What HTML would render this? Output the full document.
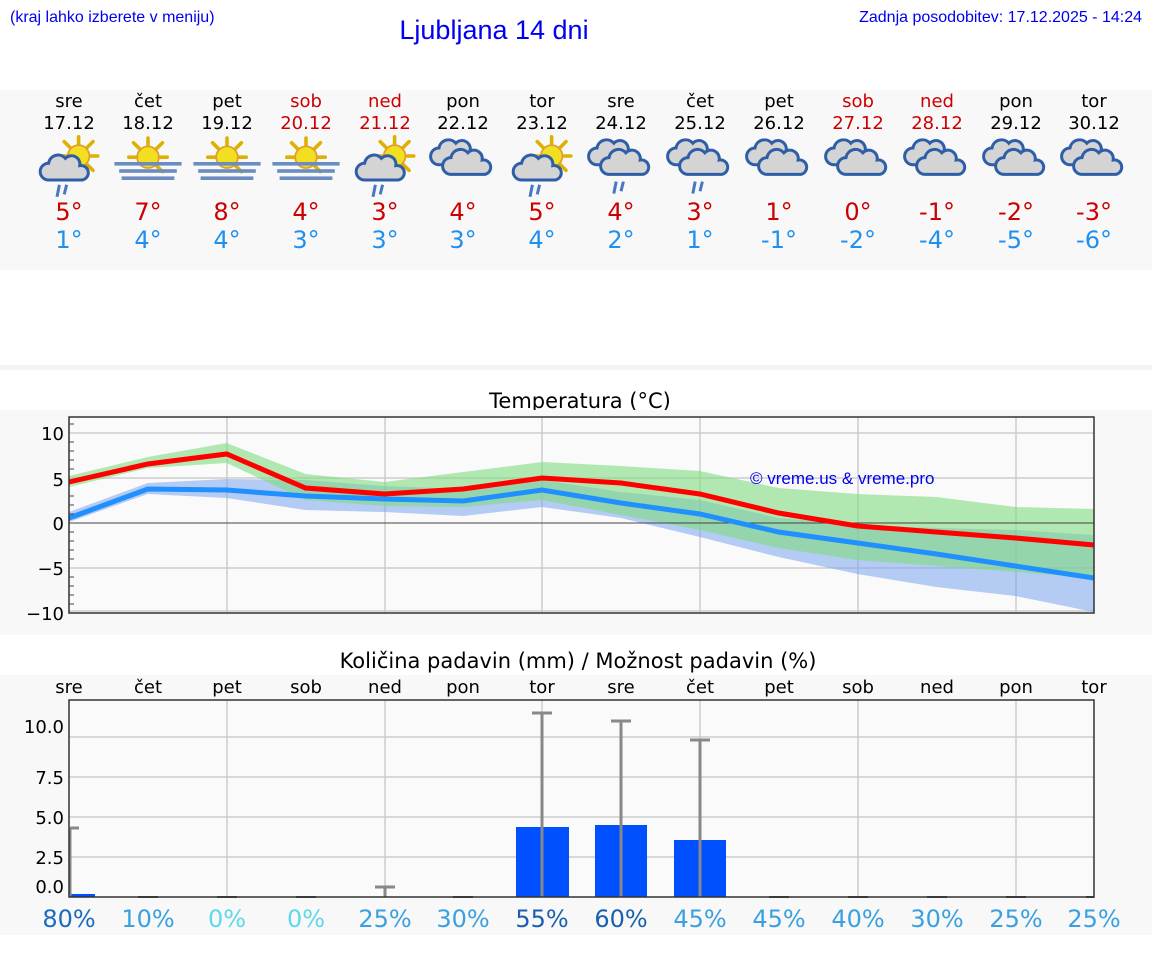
<!DOCTYPE html>
<html><head><meta charset="utf-8"><style>
body{margin:0;background:#fff;width:1152px;height:975px;overflow:hidden}
svg{display:block}
.d{font-family:"DejaVu Sans",sans-serif}
.l{font-family:"Liberation Sans",sans-serif}
</style></head><body>
<svg width="1152" height="975" viewBox="0 0 1152 975" xmlns="http://www.w3.org/2000/svg">
<defs>
<g id="sun">
 <g stroke="#e0b000" stroke-width="3" stroke-linecap="round">
  <line x1="0" y1="-10" x2="0" y2="-16"/><line x1="7" y1="-7" x2="12" y2="-12"/><line x1="10" y1="0" x2="16" y2="0"/>
  <line x1="7" y1="7" x2="12" y2="12"/><line x1="-7" y1="-7" x2="-12" y2="-12"/><line x1="-10" y1="0" x2="-16" y2="0"/>
 </g>
 <circle r="9" fill="#f2e020" stroke="#e0a030" stroke-width="1.5"/>
</g>
<g id="cloud">
 <path d="M-14,8 a7,7 0 0 1 0,-14 a8,8 0 0 1 14,-4 a7,7 0 0 1 12,6 a6,6 0 0 1 2,12 z" fill="#d4d4d4" stroke="#2f5ea8" stroke-width="2.5"/>
</g>
<g id="rain" stroke="#4a78c0" stroke-width="2.5"><line x1="-4" y1="0" x2="-6" y2="10"/><line x1="2" y1="0" x2="0" y2="8"/></g>
<g id="i_rs0"><use href="#sun" x="8" y="-5"/><use href="#cloud" x="-3" y="7"/><use href="#rain" x="-4" y="19"/></g>
<g id="i_fs0"><use href="#sun" x="0" y="-4"/>
 <rect x="-28" y="0" width="56" height="3" fill="#6a8cc0"/><rect x="-24" y="6" width="48" height="3" fill="#6a8cc0"/><rect x="-22" y="12" width="44" height="3" fill="#6a8cc0"/></g>
<g id="i_c0"><use href="#cloud" x="-4" y="0" transform="translate(-2,-4)"/><use href="#cloud" x="4" y="4"/></g>
<g id="i_cr0"><use href="#i_c0"/><use href="#rain" x="0" y="18"/></g>
<g id="i_rs" transform="scale(1.2)"><use href="#i_rs0"/></g>
<g id="i_fs" transform="scale(1.2)"><use href="#i_fs0"/></g>
<g id="i_c" transform="scale(1.2)"><use href="#i_c0"/></g>
<g id="i_cr" transform="scale(1.2)"><use href="#i_cr0"/></g>
</defs>

<text x="10" y="22" class="l" font-size="16" fill="#0000ee">(kraj lahko izberete v meniju)</text>
<text x="494" y="39" class="l" font-size="27" fill="#0000ee" text-anchor="middle">Ljubljana 14 dni</text>
<text x="1142" y="22" class="l" font-size="16" fill="#0000ee" text-anchor="end">Zadnja posodobitev: 17.12.2025 - 14:24</text>

<rect x="0" y="90" width="1152" height="180" fill="#f8f8f8"/>
<g class="d" font-size="18" text-anchor="middle">
<g fill="#000"><text x="69" y="107">sre</text><text x="148" y="107">čet</text><text x="227" y="107">pet</text><text x="463" y="107">pon</text><text x="542" y="107">tor</text><text x="621" y="107">sre</text><text x="700" y="107">čet</text><text x="779" y="107">pet</text><text x="1016" y="107">pon</text><text x="1094" y="107">tor</text>
<text x="69" y="129">17.12</text><text x="148" y="129">18.12</text><text x="227" y="129">19.12</text><text x="463" y="129">22.12</text><text x="542" y="129">23.12</text><text x="621" y="129">24.12</text><text x="700" y="129">25.12</text><text x="779" y="129">26.12</text><text x="1016" y="129">29.12</text><text x="1094" y="129">30.12</text></g>
<g fill="#cc0000"><text x="306" y="107">sob</text><text x="385" y="107">ned</text><text x="858" y="107">sob</text><text x="937" y="107">ned</text>
<text x="306" y="129">20.12</text><text x="385" y="129">21.12</text><text x="858" y="129">27.12</text><text x="937" y="129">28.12</text></g>
</g>
<use href="#i_rs" x="69" y="162"/><use href="#i_fs" x="148" y="162"/><use href="#i_fs" x="227" y="162"/><use href="#i_fs" x="306" y="162"/><use href="#i_rs" x="385" y="162"/>
<use href="#i_c" x="463" y="160"/><use href="#i_rs" x="542" y="162"/><use href="#i_cr" x="621" y="160"/><use href="#i_cr" x="700" y="160"/>
<use href="#i_c" x="779" y="160"/><use href="#i_c" x="858" y="160"/><use href="#i_c" x="937" y="160"/><use href="#i_c" x="1016" y="160"/><use href="#i_c" x="1094" y="160"/>
<g class="d" font-size="24" text-anchor="middle">
<g fill="#cc0000"><text x="69" y="220">5°</text><text x="148" y="220">7°</text><text x="227" y="220">8°</text><text x="306" y="220">4°</text><text x="385" y="220">3°</text><text x="463" y="220">4°</text><text x="542" y="220">5°</text><text x="621" y="220">4°</text><text x="700" y="220">3°</text><text x="779" y="220">1°</text><text x="858" y="220">0°</text><text x="937" y="220">-1°</text><text x="1016" y="220">-2°</text><text x="1094" y="220">-3°</text></g>
<g fill="#2090f0"><text x="69" y="248">1°</text><text x="148" y="248">4°</text><text x="227" y="248">4°</text><text x="306" y="248">3°</text><text x="385" y="248">3°</text><text x="463" y="248">3°</text><text x="542" y="248">4°</text><text x="621" y="248">2°</text><text x="700" y="248">1°</text><text x="779" y="248">-1°</text><text x="858" y="248">-2°</text><text x="937" y="248">-4°</text><text x="1016" y="248">-5°</text><text x="1094" y="248">-6°</text></g>
</g>

<rect x="0" y="365" width="1152" height="5" fill="#f4f4f4"/>
<text x="580" y="408" class="d" font-size="21" text-anchor="middle">Temperatura (°C)</text>
<rect x="0" y="410" width="1152" height="225" fill="#f8f8f8"/>
<rect x="69" y="417" width="1025" height="196" fill="#fafafa"/>
<g stroke="#ccc" stroke-width="1.5">
<line x1="69" x2="1094" y1="433" y2="433"/><line x1="69" x2="1094" y1="478" y2="478"/><line x1="69" x2="1094" y1="568" y2="568"/><line x1="69" x2="1094" y1="611" y2="611"/>
<line x1="227" x2="227" y1="417" y2="613"/><line x1="385" x2="385" y1="417" y2="613"/><line x1="542" x2="542" y1="417" y2="613"/><line x1="700" x2="700" y1="417" y2="613"/><line x1="858" x2="858" y1="417" y2="613"/><line x1="1016" x2="1016" y1="417" y2="613"/>
</g>
<polygon fill="#7aa4ec" fill-opacity="0.55" points="69,512 147.8,483 226.7,479 305.5,480 384.4,486 463.2,489 542.1,480 620.9,492 699.8,500 778.6,518 857.5,525 936.3,528 1015.2,530 1094,535 1094,612 1015.2,596 936.3,587 857.5,574 778.6,557 699.8,537 620.9,518 542.1,507 463.2,516 384.4,512 305.5,510 226.7,498 147.8,494 69,522"/>
<polygon fill="#80dc80" fill-opacity="0.6" points="69,476 147.8,457 226.7,443 305.5,474 384.4,482 463.2,472 542.1,462 620.9,466 699.8,471 778.6,488 857.5,494 936.3,497 1015.2,507 1094,509 1094,578 1015.2,572 936.3,566 857.5,560 778.6,548 699.8,530 620.9,515 542.1,500 463.2,507 384.4,506 305.5,500 226.7,463 147.8,468 69,487"/>
<line x1="69" x2="1094" y1="523" y2="523" stroke="#444" stroke-width="1"/>
<polyline fill="none" stroke="#2090ff" stroke-width="5" points="69,518 147.8,489 226.7,490 305.5,496 384.4,499 463.2,501 542.1,490 620.9,503 699.8,514 778.6,532 857.5,543 936.3,554 1015.2,566 1094,578"/>
<polyline fill="none" stroke="#ff0000" stroke-width="5" points="69,482 147.8,464 226.7,454 305.5,488 384.4,494 463.2,489 542.1,478 620.9,483 699.8,494 778.6,513 857.5,526 936.3,532 1015.2,538 1094,545"/>
<rect x="69" y="417" width="1025" height="196" fill="none" stroke="#333" stroke-width="1.5"/>
<g stroke="#444"><line x1="69" x2="74" y1="451" y2="451"/><line x1="69" x2="74" y1="460" y2="460"/><line x1="69" x2="74" y1="469" y2="469"/><line x1="69" x2="74" y1="496" y2="496"/><line x1="69" x2="74" y1="505" y2="505"/><line x1="69" x2="74" y1="514" y2="514"/><line x1="69" x2="74" y1="532" y2="532"/><line x1="69" x2="74" y1="541" y2="541"/><line x1="69" x2="74" y1="550" y2="550"/><line x1="69" x2="74" y1="559" y2="559"/><line x1="69" x2="74" y1="577" y2="577"/><line x1="69" x2="74" y1="586" y2="586"/><line x1="69" x2="74" y1="595" y2="595"/><line x1="69" x2="74" y1="604" y2="604"/><line x1="69" x2="74" y1="424" y2="424"/><line x1="69" x2="74" y1="442" y2="442"/></g>
<g class="d" font-size="18" text-anchor="end"><text x="64" y="440">10</text><text x="64" y="486">5</text><text x="64" y="530">0</text><text x="64" y="575">−5</text><text x="64" y="620">−10</text></g>
<text x="750" y="484" class="l" font-size="17" fill="#0000ee">© vreme.us &amp; vreme.pro</text>

<text x="578" y="668" class="d" font-size="21" text-anchor="middle">Količina padavin (mm) / Možnost padavin (%)</text>
<rect x="0" y="675" width="1152" height="260" fill="#f8f8f8"/>
<g class="d" font-size="18" text-anchor="middle" fill="#000"><text x="69" y="693">sre</text><text x="148" y="693">čet</text><text x="227" y="693">pet</text><text x="306" y="693">sob</text><text x="385" y="693">ned</text><text x="463" y="693">pon</text><text x="542" y="693">tor</text><text x="621" y="693">sre</text><text x="700" y="693">čet</text><text x="779" y="693">pet</text><text x="858" y="693">sob</text><text x="937" y="693">ned</text><text x="1016" y="693">pon</text><text x="1094" y="693">tor</text></g>
<rect x="69" y="700" width="1025" height="197" fill="#fafafa"/>
<g stroke="#ccc" stroke-width="1.5">
<line x1="69" x2="1094" y1="737" y2="737"/><line x1="69" x2="1094" y1="777" y2="777"/><line x1="69" x2="1094" y1="817" y2="817"/><line x1="69" x2="1094" y1="857" y2="857"/>
<line x1="227" x2="227" y1="700" y2="897"/><line x1="385" x2="385" y1="700" y2="897"/><line x1="542" x2="542" y1="700" y2="897"/><line x1="700" x2="700" y1="700" y2="897"/><line x1="858" x2="858" y1="700" y2="897"/><line x1="1016" x2="1016" y1="700" y2="897"/>
</g>
<g fill="#0050ff"><rect x="70" y="894" width="25" height="3"/><rect x="516" y="827" width="53" height="70"/><rect x="595" y="825" width="52" height="72"/><rect x="674" y="840" width="52" height="57"/></g>
<g stroke="#888" stroke-width="3" fill="none">
<path d="M70,897V828M70,828H79"/><path d="M385,897V887M375,887H395"/>
<path d="M542,897V713M532,713H552"/><path d="M621,897V721M611,721H631"/><path d="M700,897V740M690,740H710"/>
</g>
<g stroke="#555" stroke-width="2"><line x1="138" x2="158" y1="897" y2="897"/><line x1="217" x2="237" y1="897" y2="897"/><line x1="296" x2="316" y1="897" y2="897"/><line x1="453" x2="473" y1="897" y2="897"/><line x1="769" x2="789" y1="897" y2="897"/><line x1="848" x2="868" y1="897" y2="897"/><line x1="927" x2="947" y1="897" y2="897"/><line x1="1006" x2="1026" y1="897" y2="897"/><line x1="1086" x2="1094" y1="897" y2="897"/></g>
<rect x="69" y="700" width="1025" height="197" fill="none" stroke="#333" stroke-width="1.5"/>
<g class="d" font-size="18" text-anchor="end"><text x="64" y="733">10.0</text><text x="64" y="784">7.5</text><text x="64" y="824">5.0</text><text x="64" y="864">2.5</text><text x="64" y="893">0.0</text></g>
<g class="d" font-size="24" text-anchor="middle">
<text x="69" y="927" fill="#1a6cc0">80%</text><text x="148" y="927" fill="#3aa0e0">10%</text><text x="227" y="927" fill="#60d8ec">0%</text><text x="306" y="927" fill="#60d8ec">0%</text><text x="385" y="927" fill="#3aa0e0">25%</text><text x="463" y="927" fill="#3aa0e0">30%</text><text x="542" y="927" fill="#1a60b0">55%</text><text x="621" y="927" fill="#1a60b0">60%</text><text x="700" y="927" fill="#3aa0e0">45%</text><text x="779" y="927" fill="#3aa0e0">45%</text><text x="858" y="927" fill="#3aa0e0">40%</text><text x="937" y="927" fill="#3aa0e0">30%</text><text x="1016" y="927" fill="#3aa0e0">25%</text><text x="1094" y="927" fill="#3aa0e0">25%</text>
</g>
</svg>
</body></html>
